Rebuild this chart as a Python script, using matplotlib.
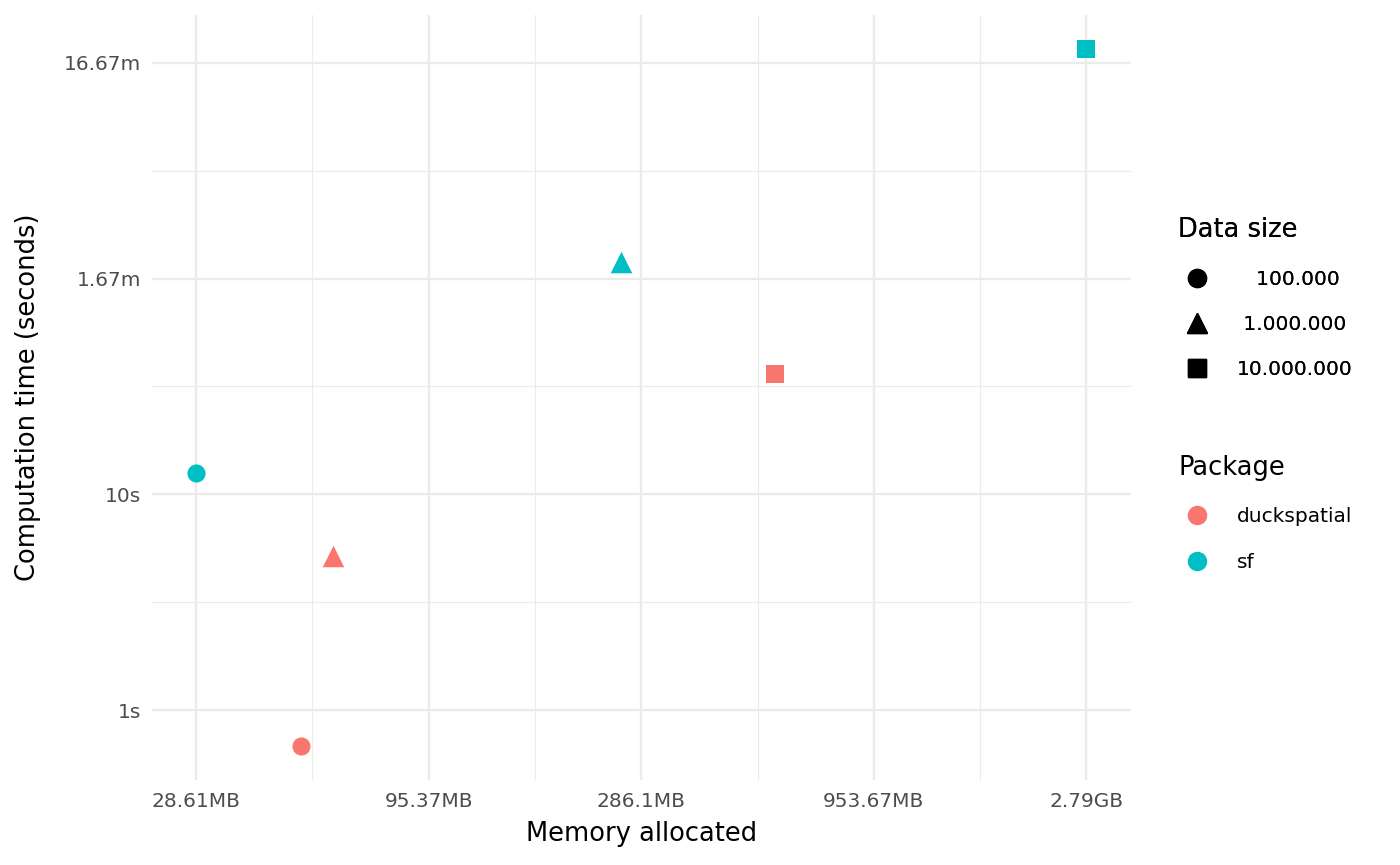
import numpy as np
import matplotlib
matplotlib.use("Agg")
import matplotlib.pyplot as plt
from matplotlib.lines import Line2D

# data (bytes, seconds)
packages = ["duckspatial", "duckspatial", "duckspatial", "sf", "sf", "sf"]
data_sizes = ["   100.000", " 1.000.000", "10.000.000", "   100.000", " 1.000.000", "10.000.000"]
memory_bytes = [51.5e6, 61e6, 600e6, 30e6, 270e6, 3.0e9]
time_seconds = [0.68, 5.2, 36.0, 12.5, 120.0, 1160.0]

x_ticks = [30e6, 100e6, 300e6, 1e9, 3e9]
x_labels = ["28.61MB", "95.37MB", "286.1MB", "953.67MB", "2.79GB"]
y_ticks = [1, 10, 100, 1000]
y_labels = ["1s", "10s", "1.67m", "16.67m"]

size_levels = ["   100.000", " 1.000.000", "10.000.000"]
pkg_levels = ["duckspatial", "sf"]

colors = {"duckspatial": "#F8766D", "sf": "#00BFC4"}
markers = {"   100.000": "o", " 1.000.000": "^", "10.000.000": "s"}
msizes = {"o": 170, "^": 240, "s": 150}

plt.rcParams["font.family"] = "DejaVu Sans"

fig = plt.figure(figsize=(14, 8.65), dpi=100)
ax = fig.add_axes([0.1086, 0.0983, 0.6993, 0.8844])

for pkg, ds, xm, yt in zip(packages, data_sizes, memory_bytes, time_seconds):
    m = markers[ds]
    ax.scatter(xm, yt, marker=m, s=msizes[m], color=colors[pkg], linewidths=0, zorder=3)

ax.set_xscale("log")
ax.set_yscale("log")
ax.set_xlim(10 ** 7.378, 10 ** 9.578)
ax.set_ylim(10 ** -0.324, 10 ** 3.222)

ax.set_xticks(x_ticks)
ax.set_xticklabels(x_labels)
ax.set_yticks(y_ticks)
ax.set_yticklabels(y_labels)
x_minor = [np.sqrt(a * b) for a, b in zip(x_ticks[:-1], x_ticks[1:])]
y_minor = [np.sqrt(a * b) for a, b in zip(y_ticks[:-1], y_ticks[1:])]
ax.set_xticks(x_minor, minor=True)
ax.set_yticks(y_minor, minor=True)
ax.xaxis.set_minor_formatter(plt.NullFormatter())
ax.yaxis.set_minor_formatter(plt.NullFormatter())

ax.grid(True, which="major", color="#EBEBEB", linewidth=1.7)
ax.grid(True, which="minor", color="#EBEBEB", linewidth=0.85)
ax.set_axisbelow(True)
for s in ax.spines.values():
    s.set_visible(False)
ax.tick_params(which="both", length=0, labelsize=14.5, labelcolor="#4D4D4D")
ax.tick_params(axis="x", pad=9)
ax.tick_params(axis="y", pad=8)

ax.set_xlabel("Memory allocated", fontsize=18.5, labelpad=7)
ax.set_ylabel("Computation time (seconds)", fontsize=18.5, labelpad=16)

size_handles = [Line2D([], [], marker=markers[s], linestyle="none", color="black",
                       markersize=13 if markers[s] != "^" else 15) for s in size_levels]
leg1 = fig.legend(size_handles, size_levels, title="Data size", loc="upper left",
                  bbox_to_anchor=(0.836, 0.758), frameon=False, fontsize=14.5,
                  title_fontsize=18.5, alignment="left", labelspacing=1.3,
                  handletextpad=1.1, handlelength=1.8, borderaxespad=0)
pkg_handles = [Line2D([], [], marker="o", linestyle="none", color=colors[p], markersize=13)
               for p in pkg_levels]
leg2 = fig.legend(pkg_handles, pkg_levels, title="Package", loc="upper left",
                  bbox_to_anchor=(0.836, 0.483), frameon=False, fontsize=14.5,
                  title_fontsize=18.5, alignment="left", labelspacing=1.3,
                  handletextpad=1.1, handlelength=1.8, borderaxespad=0)
fig.add_artist(leg1)

fig.savefig("out.png", dpi=100)
